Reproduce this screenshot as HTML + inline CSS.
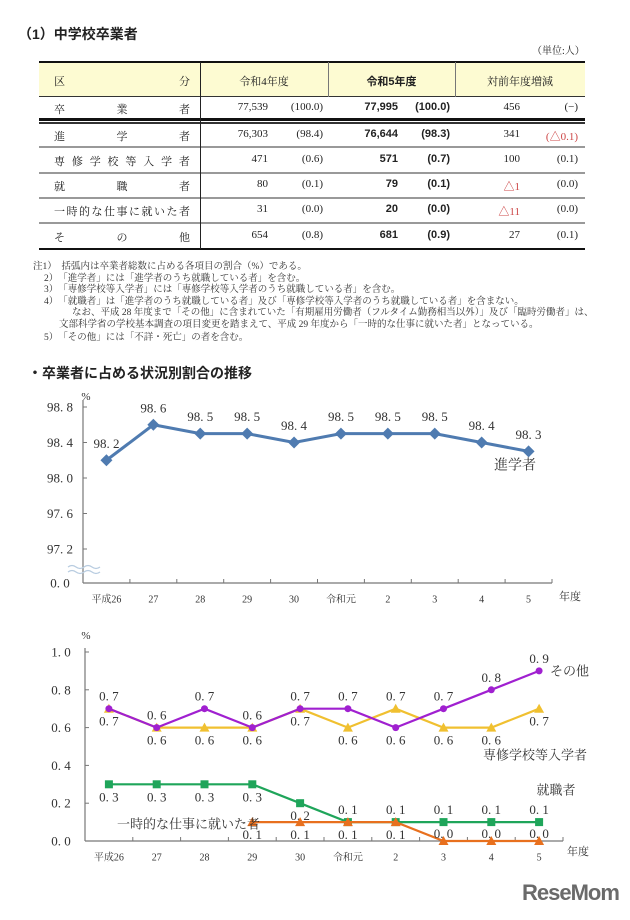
<!DOCTYPE html>
<html><head><meta charset="utf-8"><style>
body{margin:0;background:#fff;}
#page{position:relative;width:630px;height:920px;overflow:hidden;font-family:"Liberation Serif","Noto Serif CJK JP",serif;color:#222;}
.a{position:absolute;white-space:nowrap;}
.g{font-family:"Liberation Sans","Noto Sans CJK JP",sans-serif;}
.hl{position:absolute;left:39px;width:546px;}
.num{position:absolute;font-size:11px;text-align:right;width:70px;}
.b{font-family:"Liberation Sans","Noto Sans CJK JP",sans-serif;font-weight:bold;}
.lab{position:absolute;left:54px;width:136px;font-size:11px;display:flex;justify-content:space-between;white-space:nowrap;}
.note{position:absolute;font-size:9.5px;line-height:10px;white-space:nowrap;color:#333;}
svg text{font-family:"Liberation Serif","Noto Serif CJK JP",serif;}
</style></head><body>
<div id="page">
<div class="a g" style="left:18px;top:24px;font-size:14px;font-weight:bold;">（1）中学校卒業者</div>
<div class="a" style="left:532px;top:42px;font-size:10px;">（単位:人）</div>

<div>
<div class="hl" style="top:62px;height:35px;background:#fdfbd2;"></div>
<div class="hl" style="top:61px;height:2px;background:#111;"></div>
<div class="hl" style="top:96px;height:1px;background:#333;"></div>
<div class="hl" style="top:118px;height:3px;background:#111;"></div>
<div class="hl" style="top:122px;height:1.5px;background:#333;"></div>
<div class="hl" style="top:146px;height:2px;background:#999;"></div>
<div class="hl" style="top:172px;height:2px;background:#999;"></div>
<div class="hl" style="top:197px;height:2px;background:#999;"></div>
<div class="hl" style="top:222px;height:2px;background:#999;"></div>
<div class="hl" style="top:248px;height:1.5px;background:#111;"></div>
<div class="a" style="left:200px;top:62px;width:1px;height:187px;background:#222;"></div>
<div class="a" style="left:328px;top:62px;width:1px;height:35px;background:#777;"></div>
<div class="a" style="left:455px;top:62px;width:1px;height:35px;background:#777;"></div>
<div class="lab" style="top:73px;"><span>区</span><span>分</span></div>
<div class="a" style="left:200px;width:128px;top:73px;font-size:11px;text-align:center;">令和4年度</div>
<div class="a b" style="left:328px;width:127px;top:73px;font-size:11px;text-align:center;">令和5年度</div>
<div class="a" style="left:455px;width:130px;top:73px;font-size:11px;text-align:center;">対前年度増減</div>

<div class="lab" style="top:101px;"><span>卒</span><span>業</span><span>者</span></div>
<div class="num" style="left:198px;top:101px;">77,539</div><div class="num" style="left:253px;top:101px;">(100.0)</div>
<div class="num b" style="left:328px;top:101px;">77,995</div><div class="num b" style="left:380px;top:101px;">(100.0)</div>
<div class="num" style="left:450px;top:101px;">456</div><div class="num" style="left:508px;top:101px;">(−)</div>

<div class="lab" style="top:128px;"><span>進</span><span>学</span><span>者</span></div>
<div class="num" style="left:198px;top:128px;">76,303</div><div class="num" style="left:253px;top:128px;">(98.4)</div>
<div class="num b" style="left:328px;top:128px;">76,644</div><div class="num b" style="left:380px;top:128px;">(98.3)</div>
<div class="num" style="left:450px;top:128px;">341</div><div class="num" style="left:508px;top:128px;color:#c44;">(△0.1)</div>

<div class="lab" style="top:153px;"><span>専</span><span>修</span><span>学</span><span>校</span><span>等</span><span>入</span><span>学</span><span>者</span></div>
<div class="num" style="left:198px;top:153px;">471</div><div class="num" style="left:253px;top:153px;">(0.6)</div>
<div class="num b" style="left:328px;top:153px;">571</div><div class="num b" style="left:380px;top:153px;">(0.7)</div>
<div class="num" style="left:450px;top:153px;">100</div><div class="num" style="left:508px;top:153px;">(0.1)</div>

<div class="lab" style="top:178px;"><span>就</span><span>職</span><span>者</span></div>
<div class="num" style="left:198px;top:178px;">80</div><div class="num" style="left:253px;top:178px;">(0.1)</div>
<div class="num b" style="left:328px;top:178px;">79</div><div class="num b" style="left:380px;top:178px;">(0.1)</div>
<div class="num" style="left:450px;top:178px;color:#c44;">△1</div><div class="num" style="left:508px;top:178px;">(0.0)</div>

<div class="lab" style="top:203px;"><span>一</span><span>時</span><span>的</span><span>な</span><span>仕</span><span>事</span><span>に</span><span>就</span><span>い</span><span>た</span><span>者</span></div>
<div class="num" style="left:198px;top:203px;">31</div><div class="num" style="left:253px;top:203px;">(0.0)</div>
<div class="num b" style="left:328px;top:203px;">20</div><div class="num b" style="left:380px;top:203px;">(0.0)</div>
<div class="num" style="left:450px;top:203px;color:#c44;">△11</div><div class="num" style="left:508px;top:203px;">(0.0)</div>

<div class="lab" style="top:229px;"><span>そ</span><span>の</span><span>他</span></div>
<div class="num" style="left:198px;top:229px;">654</div><div class="num" style="left:253px;top:229px;">(0.8)</div>
<div class="num b" style="left:328px;top:229px;">681</div><div class="num b" style="left:380px;top:229px;">(0.9)</div>
<div class="num" style="left:450px;top:229px;">27</div><div class="num" style="left:508px;top:229px;">(0.1)</div>
</div>

<div>
<div class="note" style="left:33px;top:262px;">注1）　括弧内は卒業者総数に占める各項目の割合（%）である。</div>
<div class="note" style="left:44px;top:274px;">2）　「進学者」には「進学者のうち就職している者」を含む。</div>
<div class="note" style="left:44px;top:285px;">3）　「専修学校等入学者」には「専修学校等入学者のうち就職している者」を含む。</div>
<div class="note" style="left:44px;top:297px;">4）　「就職者」は「進学者のうち就職している者」及び「専修学校等入学者のうち就職している者」を含まない。</div>
<div class="note" style="left:72px;top:308px;">なお、平成 28 年度まで「その他」に含まれていた「有期雇用労働者（フルタイム勤務相当以外）」及び「臨時労働者」は、</div>
<div class="note" style="left:59px;top:320px;">文部科学省の学校基本調査の項目変更を踏まえて、平成 29 年度から「一時的な仕事に就いた者」となっている。</div>
<div class="note" style="left:44px;top:333px;">5）　「その他」には「不詳・死亡」の者を含む。</div>
</div>
<div class="a g" style="left:28px;top:363px;font-size:14px;font-weight:bold;">・卒業者に占める状況別割合の推移</div>

<svg id="charts" class="a" style="left:0;top:0;" width="630" height="920"></svg>

<div class="a g" style="left:522px;top:880px;font-size:22px;font-weight:bold;color:#6a6a6a;letter-spacing:-1px;">ReseMom</div>
</div>
<script>
const years = ["平成26","27","28","29","30","令和元","2","3","4","5"];
const advanceRate = [98.2,98.6,98.5,98.5,98.4,98.5,98.5,98.5,98.4,98.3];
const otherRate = [0.7,0.6,0.7,0.6,0.7,0.7,0.6,0.7,0.8,0.9];
const vocationalRate = [0.7,0.6,0.6,0.6,0.7,0.6,0.7,0.6,0.6,0.7];
const employedRate = [0.3,0.3,0.3,0.3,0.2,0.1,0.1,0.1,0.1,0.1];
const temporaryRate = [null,null,null,0.1,0.1,0.1,0.1,0.0,0.0,0.0];
const ticks1 = [98.8,98.4,98.0,97.6,97.2];
const ticks2 = [0.0,0.2,0.4,0.6,0.8,1.0];

const svg = document.getElementById('charts');
const NS = 'http://www.w3.org/2000/svg';
function el(tag, attrs, parent){const e=document.createElementNS(NS,tag);for(const k in attrs)e.setAttribute(k,attrs[k]);(parent||svg).appendChild(e);return e;}
function txt(x,y,s,attrs,parent){const t=el('text',Object.assign({x:x,y:y,'font-size':12,fill:'#333','text-anchor':'middle','dominant-baseline':'central'},attrs||{}),parent);t.textContent=s;return t;}
function fmt(v){return v.toFixed(1).replace('.', '. ');}

// ---- Chart 1 ----
const c1 = {x0:83,x1:552,y0:583,band:46.9};
const x1f = i => c1.x0 + c1.band*(i+0.5);
const y1f = v => 407 + (98.8 - v)*88.75;
const g1 = el('g',{});


el('line',{x1:c1.x0,y1:400,x2:c1.x0,y2:c1.y0,stroke:'#777','stroke-width':1.2},g1);
el('line',{x1:c1.x0,y1:c1.y0,x2:c1.x1,y2:c1.y0,stroke:'#777','stroke-width':1.2},g1);
ticks1.forEach(v=>{
  const y=y1f(v);
  el('line',{x1:c1.x0,y1:y,x2:c1.x0+4,y2:y,stroke:'#777'},g1);
  const t=txt(60,y,fmt(v),{'font-size':13},g1);
  
  
});
const z=txt(60,c1.y0,'0. 0',{'font-size':13},g1);


el('path',{d:'M68 567 q4 -3 8 0 t8 0 t8 0 t8 0 M68 572 q4 -3 8 0 t8 0 t8 0 t8 0',stroke:'#b8cce0',fill:'none','stroke-width':1.2},g1);
txt(86,397,'%',{'font-size':11},g1);
for(let i=1;i<years.length;i++){const x=c1.x0+c1.band*i;el('line',{x1:x,y1:c1.y0,x2:x,y2:c1.y0-4,stroke:'#777'},g1);}
el('line',{x1:c1.x1,y1:c1.y0,x2:c1.x1,y2:c1.y0-4,stroke:'#777'},g1);
years.forEach((s,i)=>{const t=txt(x1f(i),600,s,{'font-size':10},g1);
  
  });
txt(570,597,'年度',{'font-size':11},g1);
el('polyline',{points:advanceRate.map((v,i)=>x1f(i)+','+y1f(v)).join(' '),fill:'none',stroke:'#4f7bb0','stroke-width':3},g1);
advanceRate.forEach((v,i)=>{
  const x=x1f(i),y=y1f(v);
  const m=el('path',{d:`M${x} ${y-6}L${x+6} ${y}L${x} ${y+6}L${x-6} ${y}Z`,fill:'#4f7bb0'},g1);
  
  
  txt(x,y-17,fmt(v),{'font-size':13},g1);
});
txt(515,466,'進学者',{'font-size':14},g1);

// ---- Chart 2 ----
const c2 = {x0:85,x1:563,y0:841,band:47.8};
const x2f = i => c2.x0 + c2.band*(i+0.5);
const y2f = v => 841 - v*189;
const g2 = el('g',{});


el('line',{x1:c2.x0,y1:648,x2:c2.x0,y2:c2.y0,stroke:'#777','stroke-width':1.2},g2);
el('line',{x1:c2.x0,y1:c2.y0,x2:c2.x1,y2:c2.y0,stroke:'#777','stroke-width':1.2},g2);
ticks2.forEach(v=>{
  const y=y2f(v);
  el('line',{x1:c2.x0,y1:y,x2:c2.x0+4,y2:y,stroke:'#777'},g2);
  const t=txt(61,y,fmt(v),{'font-size':13},g2);
  
  
});
txt(86,636,'%',{'font-size':11},g2);
for(let i=1;i<years.length;i++){const x=c2.x0+c2.band*i;el('line',{x1:x,y1:c2.y0,x2:x,y2:c2.y0-4,stroke:'#777'},g2);}
el('line',{x1:c2.x1,y1:c2.y0,x2:c2.x1,y2:c2.y0-4,stroke:'#777'},g2);
years.forEach((s,i)=>{const t=txt(x2f(i),858,s,{'font-size':10},g2);
  
  });
txt(578,852,'年度',{'font-size':11},g2);

function marker(kind,x,y,color){
  if(kind==='circle') return el('circle',{cx:x,cy:y,r:3.5,fill:color},g2);
  if(kind==='square') return el('rect',{x:x-4,y:y-4,width:8,height:8,fill:color},g2);
  return el('path',{d:`M${x} ${y-5}L${x+5} ${y+4}L${x-5} ${y+4}Z`,fill:color},g2);
}
function series(data,color,kind,name,side){
  const pts=[];data.forEach((v,i)=>{if(v!==null)pts.push(x2f(i)+','+y2f(v));});
  el('polyline',{points:pts.join(' '),fill:'none',stroke:color,'stroke-width':2.2},g2);
  data.forEach((v,i)=>{
    if(v===null)return;
    const m=marker(kind,x2f(i),y2f(v),color);
    
    
  });
  data.forEach((v,i)=>{
    if(v===null)return;
    txt(x2f(i),y2f(v)+side(v,i)*12.5,fmt(v),{'font-size':13},g2);
  });
}
series(vocationalRate,'#f0c030','triangle','vocational',(v,i)=> v>otherRate[i]?-1:1);
series(otherRate,'#a020d0','circle','other',(v,i)=> v>=vocationalRate[i]?-1:1);
series(employedRate,'#1fa55a','square','employed',(v,i)=> v<=0.1?-1:1);
series(temporaryRate,'#e8701e','triangle','temporary',(v,i)=> v>0?1:-0.6);
txt(550,671,'その他',{'font-size':13,'text-anchor':'start'},g2);
txt(535,755,'専修学校等入学者',{'font-size':13},g2);
txt(556,790,'就職者',{'font-size':13},g2);
txt(117,824,'一時的な仕事に就いた者',{'font-size':13,'text-anchor':'start'},g2);
</script>
</body></html>
